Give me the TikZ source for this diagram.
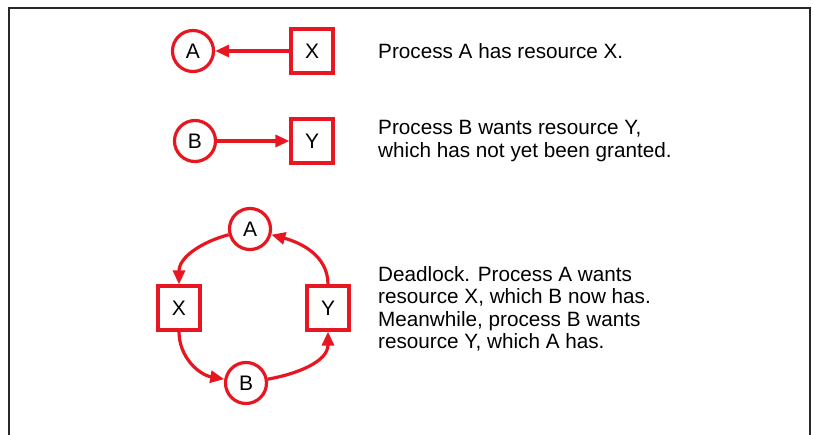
\documentclass[tikz,border=0pt]{standalone}
\usepackage{fontspec}
\setmainfont{Liberation Sans}
\usetikzlibrary{arrows.meta}
\definecolor{dred}{RGB}{232,22,32}
\definecolor{framecol}{RGB}{40,40,40}
\tikzset{
  proc/.style={circle, draw=dred, line width=3.2pt, minimum size=41pt, inner sep=0pt, fill=white,
    font=\fontsize{21}{23}\selectfont},
  res/.style={rectangle, draw=dred, line width=3.2pt, minimum width=42pt, minimum height=44pt, inner sep=0pt, fill=white,
    font=\fontsize{21}{23}\selectfont},
  rel/.style={draw=dred, line width=3.2pt, -{Triangle[length=14pt,width=12pt]}},
  caption/.style={anchor=west, align=left, inner sep=0pt, font=\fontsize{20.7}{22.5}\selectfont}
}
\begin{document}
\begin{tikzpicture}[x=1pt,y=-1pt]
\useasboundingbox (0,0) rectangle (813,435);
\draw[framecol, line width=2pt] (9,436) -- (9,8) -- (810,8) -- (810,436);

% first row
\node[proc] (a1) at (193,51) {A};
\node[res]  (x1) at (312,51) {X};
\draw[rel] (x1) -- (a1);
\node[caption] (t1) at (378,51) {Process A has resource X.};

% second row
\node[proc] (b1) at (195,141) {B};
\node[res]  (y1) at (312,141) {Y};
\draw[rel] (b1) -- (y1);
\node[caption] (t2) at (378,141) {Process B wants resource Y,\\which has not yet been granted.};

% deadlock cycle
\node[proc] (a2) at (250,229) {A};
\node[res]  (x2) at (179,308) {X};
\node[res]  (y2) at (328,308) {Y};
\node[proc] (b2) at (246,383) {B};
\draw[rel] (a2) to[out=195,in=90] (x2);
\draw[rel] (x2) to[out=270,in=170] (b2);
\draw[rel] (b2) to[out=10,in=270] (y2);
\draw[rel] (y2) to[out=90,in=-15] (a2);
\node[caption] (t3) at (378,309) {Deadlock. Process A wants\\resource X, which B now has.\\Meanwhile, process B wants\\resource Y, which A has.};
\end{tikzpicture}
\end{document}
